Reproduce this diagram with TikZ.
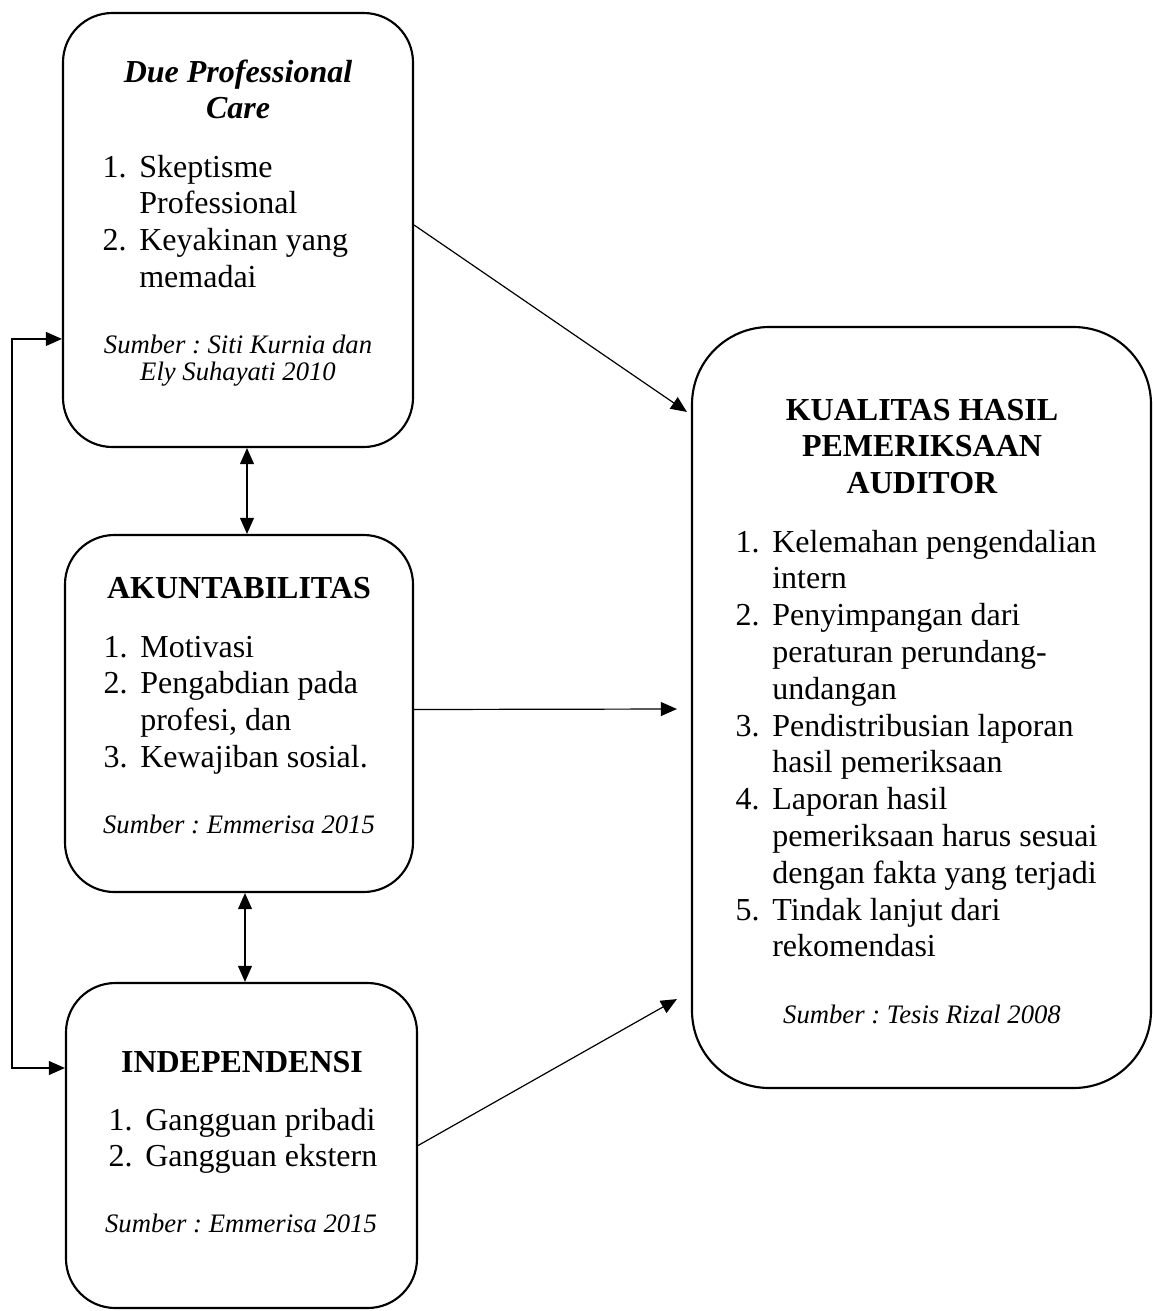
\documentclass[tikz,border=0pt]{standalone}
\usepackage{fontspec}
\setmainfont{Liberation Serif}
\frenchspacing
\usetikzlibrary{arrows.meta,calc,fit}

\newcommand{\stack}[1]{\begin{tabular}[t]{@{}c@{}}#1\end{tabular}}
\newcommand{\nlist}[1]{\begin{tabular}[t]{@{}p{13.8pt}@{}l@{}}#1\end{tabular}}

\tikzset{
  pbox/.style={draw, line width=0.8pt, rounded corners=18.5pt, inner sep=0pt},
  ttl/.style={font=\fontsize{12}{13.8}\selectfont\bfseries, inner sep=0pt, anchor=base},
  itm/.style={font=\fontsize{12}{13.8}\selectfont, inner sep=0pt, anchor=base west},
  src/.style={font=\fontsize{10}{10.3}\selectfont\itshape, inner sep=0pt, anchor=base},
  arr/.style={-{Triangle[length=6pt,width=5.2pt]}, line width=0.45pt},
  dbl/.style={{Triangle[length=6pt,width=5.2pt]}-{Triangle[length=6pt,width=5.2pt]}, line width=0.45pt}
}

\begin{document}
\begin{tikzpicture}[x=0.375pt, y=-0.375pt]
  \useasboundingbox (0,0) rectangle (1153,1311);

  % Boxes
  \node[pbox, fit={(63,13) (413,447)}] (dpc) {};
  \node[pbox, fit={(65,535) (413,892)}] (akt) {};
  \node[pbox, fit={(66,983) (417,1308)}] (ind) {};
  \node[pbox, rounded corners=29pt, fit={(692,327) (1151,1088)}] (kual) {};

  % Due Professional Care
  \node[ttl, font=\fontsize{12}{13.8}\selectfont\bfseries\itshape] (dpcT) at (238,82)
    {\stack{Due Professional\\Care}};
  \node[itm] (dpcL) at (102,177)
    {\nlist{1. & Skeptisme\\ & Professional\\ 2. & Keyakinan yang\\ & memadai}};
  \node[src] (dpcS) at (238,353) {\stack{Sumber : Siti Kurnia dan\\Ely Suhayati 2010}};

  % Akuntabilitas
  \node[ttl] (aktT) at (239,598) {AKUNTABILITAS};
  \node[itm] (aktL) at (103,657)
    {\nlist{1. & Motivasi\\ 2. & Pengabdian pada\\ & profesi, dan\\ 3. & Kewajiban sosial.}};
  \node[src] (aktS) at (239,833) {Sumber : Emmerisa 2015};

  % Independensi
  \node[ttl] (indT) at (242,1072) {INDEPENDENSI};
  \node[itm] (indL) at (108,1130)
    {\nlist{1. & Gangguan pribadi\\ 2. & Gangguan ekstern}};
  \node[src] (indS) at (241,1232) {Sumber : Emmerisa 2015};

  % Kualitas hasil pemeriksaan auditor
  \node[ttl] (kualT) at (922,420) {\stack{KUALITAS HASIL\\PEMERIKSAAN\\AUDITOR}};
  \node[itm] (kualL) at (735,552)
    {\nlist{1. & Kelemahan pengendalian\\ & intern\\
      2. & Penyimpangan dari\\ & peraturan perundang-\\ & undangan\\
      3. & Pendistribusian laporan\\ & hasil pemeriksaan\\
      4. & Laporan hasil\\ & pemeriksaan harus sesuai\\ & dengan fakta yang terjadi\\
      5. & Tindak lanjut dari\\ & rekomendasi}};
  \node[src] (kualS) at (922,1023) {Sumber : Tesis Rizal 2008};

  % Connectors
  \draw[arr] ($(dpc.east)+(0,-5)$) -- ($(kual.north west)+(-4,86)$);
  \draw[arr] ($(akt.east)+(0,-4)$) -- ($(kual.west)+(-14,1.5)$);
  \draw[arr] (ind.east) -- ($(kual.south west)+(-14,-90)$);
  \draw[dbl] ($(dpc.south)+(9,0)$) -- ($(akt.north)+(8,0)$);
  \draw[dbl] ($(akt.south)+(6,0)$) -- ($(ind.north)+(3.5,0)$);
  \coordinate (lb) at (12,1068);
  \draw[dbl] ($(dpc.north west)+(0,327)$) -| (lb) -- (lb -| ind.west);
\end{tikzpicture}
\end{document}
